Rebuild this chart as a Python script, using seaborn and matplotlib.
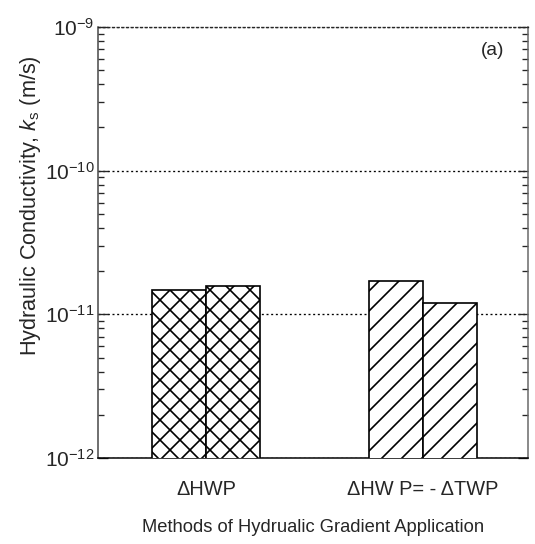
import matplotlib
matplotlib.use("Agg")
import matplotlib.pyplot as plt
import seaborn as sns
import pandas as pd
from matplotlib.ticker import LogLocator, NullFormatter, FuncFormatter
import numpy as np

methods = ["\u0394HWP", "\u0394HW P= - \u0394TWP"]
runs = ["Test 1", "Test 2"]
ks_test1 = [1.48e-11, 1.70e-11]
ks_test2 = [1.58e-11, 1.19e-11]
hatches = ["xx", "//"]

df = pd.DataFrame({
    "method": methods * 2,
    "run": [runs[0]] * 2 + [runs[1]] * 2,
    "ks": ks_test1 + ks_test2,
})

sns.set_style("ticks")
plt.rcParams["font.family"] = ["Liberation Sans", "DejaVu Sans"]
plt.rcParams["hatch.linewidth"] = 1.0
plt.rcParams["mathtext.fontset"] = "custom"
plt.rcParams["mathtext.rm"] = "Liberation Sans"
plt.rcParams["mathtext.it"] = "Liberation Sans:italic"
plt.rcParams["axes.unicode_minus"] = False

DPI = 120
fig = plt.figure(figsize=(535 / DPI, 544 / DPI), dpi=DPI)
ax = fig.add_axes([98 / 535, 86 / 544, 430 / 535, 431 / 544])
ax.set_yscale("log")

sns.barplot(data=df, x="method", y="ks", hue="run", width=0.5,
            ax=ax, legend=False,
            palette=["white", "white"], edgecolor="black", linewidth=1.0,
            zorder=3)

base = 1e-13
for cont in ax.containers:
    for i, bar in enumerate(cont):
        top = bar.get_y() + bar.get_height()
        bar.set_y(base)
        bar.set_height(top - base)
        bar.set_hatch(hatches[i])
        bar.set_facecolor("white")
        bar.set_edgecolor("black")

ax.set_ylim(1e-12, 1e-9)
ax.set_xlim(-0.498, 1.484)

ax.yaxis.set_major_locator(LogLocator(base=10))
ax.yaxis.set_major_formatter(FuncFormatter(
    lambda v, p: "$\\mathregular{10^{%d}}$" % int(round(np.log10(v)))))
ax.yaxis.set_minor_locator(LogLocator(base=10, subs=range(2, 10)))
ax.yaxis.set_minor_formatter(NullFormatter())
ax.tick_params(axis="y", which="major", direction="in", length=6, width=0.8,
               right=True, labelsize=12.5, pad=2)
ax.tick_params(axis="y", which="minor", direction="in", length=3.5, width=0.8,
               right=True)
ax.tick_params(axis="x", length=0, labelsize=12, pad=13)
ax.yaxis.get_offset_text().set_visible(False)
ax.xaxis.get_offset_text().set_visible(False)

ax.yaxis.grid(True, which="major", linestyle=(0, (1.5, 2)), color="black",
              linewidth=0.8, zorder=0)
ax.set_axisbelow(True)

for s in ["left", "right", "bottom"]:
    ax.spines[s].set_color("black")
    ax.spines[s].set_linewidth(0.9)
ax.spines["top"].set_linestyle((0, (1.5, 2)))
ax.spines["top"].set_linewidth(0.8)
ax.spines["right"].set_color("#666666")
ax.spines["left"].set_color("#444444")

ax.set_xlabel("Methods of Hydrualic Gradient Application", fontsize=11,
              labelpad=12)
ax.set_ylabel("Hydraulic Conductivity, $\\mathit{k}_{\\mathregular{s}}$ (m/s)",
              fontsize=13, va="center")
ax.yaxis.set_label_coords(-0.157, 0.585)

ax.text(0.917, 0.945, "(a)", transform=ax.transAxes, fontsize=11.5,
        ha="center", va="center")

fig.savefig("out.png", dpi=DPI)
